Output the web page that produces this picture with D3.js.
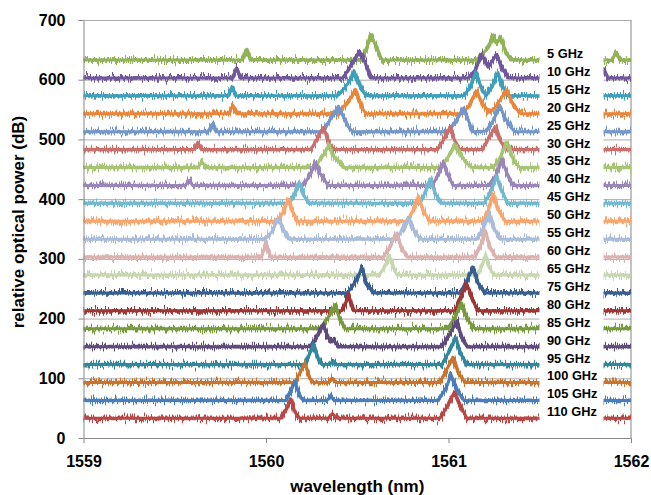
<!DOCTYPE html>
<html>
<head>
<meta charset="utf-8">
<script src="https://cdn.jsdelivr.net/npm/d3@7"></script>
<style>
  body { margin: 0; background: #fff; }
  text { font-family: "Liberation Sans", Arial, sans-serif; font-weight: bold; fill: #000; }
</style>
</head>
<body>
<div id="chart"></div>
<script>
// labels of the traces, top to bottom
let labels = ["5 GHz", "10 GHz", "15 GHz", "20 GHz", "25 GHz", "30 GHz", "35 GHz", "40 GHz",
  "45 GHz", "50 GHz", "55 GHz", "60 GHz", "65 GHz", "75 GHz", "80 GHz", "85 GHz", "90 GHz",
  "95 GHz", "100 GHz", "105 GHz", "110 GHz"];

// vertical offset of each trace (dB)
let offsets = [633, 603, 573, 543, 513, 483, 453, 423, 393, 363, 333, 303, 273, 243, 213, 183, 153, 123, 93, 63, 33];

let colors = ["#8fb356", "#70569a", "#3f9fba", "#e8873c", "#7497ca", "#c9706d", "#a6c472", "#9a86b8",
  "#72b8ce", "#f9a56e", "#a9bdda", "#dcb2b1", "#c7d8b1", "#375f92", "#9c3735", "#789a3e", "#5f4a7c",
  "#33869b", "#c9742f", "#4b7dbb", "#b84846"];

let xTicks = [1559, 1560, 1561, 1562];
let yTicks = [0, 100, 200, 300, 400, 500, 600, 700];

// spectra: [wavelength (nm), power above trace offset (dB)]
let ghz5 = [[1559, 0], [1559.872, 0], [1559.894, 18], [1559.916, 0],
  [1560.524, 0], [1560.550, 18], [1560.573, 43], [1560.600, 25], [1560.628, 4], [1560.640, 0],
  [1561.151, 0], [1561.192, 12], [1561.219, 22], [1561.244, 42], [1561.263, 28], [1561.285, 38], [1561.315, 12], [1561.342, 0],
  [1561.896, 0], [1561.918, 13], [1561.940, 0], [1562, 0]];
let ghz10 = [[1559, 0], [1559.817, 0], [1559.839, 17], [1559.861, 0],
  [1560.422, 0], [1560.460, 18], [1560.512, 45], [1560.540, 28], [1560.572, 0],
  [1561.107, 0], [1561.151, 15], [1561.181, 40], [1561.216, 18], [1561.263, 39], [1561.293, 18], [1561.326, 0],
  [1561.830, 0], [1561.852, 15], [1561.874, 0], [1562, 0]];
let ghz15 = [[1559, 0], [1559.792, 0], [1559.814, 15], [1559.836, 0],
  [1560.389, 0], [1560.427, 12], [1560.460, 25], [1560.482, 42], [1560.504, 25], [1560.521, 12], [1560.548, 0],
  [1561.085, 0], [1561.118, 15], [1561.148, 38], [1561.178, 15], [1561.205, 0], [1561.238, 15], [1561.271, 39], [1561.299, 15], [1561.321, 0],
  [1562, 0]];
let ghz20 = [[1559, 0], [1559.796, 0], [1559.818, 14], [1559.840, 0],
  [1560.395, 0], [1560.433, 15], [1560.466, 27], [1560.490, 41], [1560.510, 23], [1560.526, 10], [1560.548, 0],
  [1561.074, 0], [1561.112, 13], [1561.153, 38], [1561.184, 18], [1561.222, 3], [1561.255, 10], [1561.282, 23], [1561.318, 40], [1561.342, 23], [1561.364, 10], [1561.397, 0],
  [1562, 0]];
let ghz25 = [[1559, 0], [1559.682, 0], [1559.704, 12], [1559.726, 0],
  [1560.296, 0], [1560.334, 12], [1560.367, 27], [1560.395, 42], [1560.425, 25], [1560.447, 10], [1560.474, 0],
  [1560.997, 0], [1561.036, 15], [1561.082, 39], [1561.107, 20], [1561.134, 0], [1561.205, 1], [1561.244, 18], [1561.282, 42], [1561.310, 23], [1561.342, 7], [1561.364, 0],
  [1562, 0]];
let ghz30 = [[1559, 0], [1559.604, 0], [1559.626, 12], [1559.648, 0],
  [1560.247, 0], [1560.274, 15], [1560.296, 27], [1560.315, 37], [1560.334, 22], [1560.351, 8], [1560.373, 0],
  [1560.937, 0], [1560.970, 15], [1561.008, 38], [1561.030, 18], [1561.058, 0],
  [1561.184, 0], [1561.216, 17], [1561.255, 38], [1561.277, 18], [1561.315, 0], [1562, 0]];
let ghz35 = [[1559, 0], [1559.627, 0], [1559.649, 10], [1559.671, 0],
  [1560.268, 0], [1560.285, 8], [1560.318, 22], [1560.345, 38], [1560.367, 20], [1560.395, 12], [1560.422, 0],
  [1560.953, 0], [1560.997, 17], [1561.036, 38], [1561.069, 20], [1561.101, 7], [1561.129, 0],
  [1561.244, 0], [1561.282, 15], [1561.318, 42], [1561.342, 23], [1561.364, 8], [1561.392, 0], [1562, 0]];
let ghz40 = [[1559, 0], [1559.558, 0], [1559.578, 8], [1559.598, 0],
  [1560.203, 0], [1560.241, 17], [1560.272, 38], [1560.296, 20], [1560.323, 8], [1560.340, 0],
  [1560.910, 0], [1560.943, 17], [1560.972, 38], [1560.997, 17], [1561.025, 0],
  [1561.222, 0], [1561.260, 17], [1561.292, 43], [1561.321, 20], [1561.353, 0], [1562, 0]];
let ghz45 = [[1559, 0],
  [1560.126, 0], [1560.153, 12], [1560.182, 35], [1560.208, 13], [1560.236, 0],
  [1560.838, 0], [1560.871, 17], [1560.899, 41], [1560.926, 17], [1560.959, 0],
  [1561.195, 0], [1561.227, 17], [1561.264, 44], [1561.293, 20], [1561.326, 0], [1562, 0]];
let ghz50 = [[1559, 0],
  [1560.060, 0], [1560.093, 15], [1560.122, 37], [1560.148, 15], [1560.175, 0],
  [1560.773, 0], [1560.805, 17], [1560.835, 42], [1560.860, 18], [1560.899, 0],
  [1561.189, 0], [1561.216, 17], [1561.245, 45], [1561.271, 20], [1561.310, 0], [1562, 0]];
let ghz55 = [[1559, 0],
  [1559.995, 0], [1560.033, 13], [1560.068, 35], [1560.099, 15], [1560.126, 0],
  [1560.712, 0], [1560.745, 15], [1560.780, 37], [1560.811, 15], [1560.844, 0],
  [1561.156, 0], [1561.189, 17], [1561.222, 43], [1561.249, 18], [1561.282, 0], [1562, 0]];
let ghz60 = [[1559, 0],
  [1559.975, 0], [1560.000, 23], [1560.025, 0],
  [1560.641, 0], [1560.679, 17], [1560.716, 40], [1560.740, 17], [1560.773, 0],
  [1561.140, 0], [1561.173, 17], [1561.203, 43], [1561.227, 17], [1561.260, 0], [1562, 0]];
let ghz65 = [[1559, 0],
  [1560.619, 0], [1560.647, 12], [1560.675, 32], [1560.696, 13], [1560.718, 0],
  [1561.156, 0], [1561.178, 12], [1561.203, 33], [1561.222, 13], [1561.249, 0], [1562, 0]];
let ghz75 = [[1559, 0],
  [1560.444, 0], [1560.471, 10], [1560.499, 25], [1560.526, 42], [1560.548, 18], [1560.586, 0],
  [1561.068, 0], [1561.107, 25], [1561.136, 43], [1561.162, 17], [1561.200, 0], [1562, 0]];
let ghz80 = [[1559, 0],
  [1560.416, 0], [1560.433, 10], [1560.451, 28], [1560.466, 12], [1560.479, 0],
  [1561.036, 0], [1561.063, 20], [1561.100, 45], [1561.134, 17], [1561.162, 0], [1562, 0]];
let ghz85 = [[1559, 0],
  [1560.296, 0], [1560.351, 23], [1560.378, 40], [1560.405, 15], [1560.433, 0],
  [1560.997, 0], [1561.041, 23], [1561.072, 43], [1561.101, 17], [1561.145, 0], [1562, 0]];
let ghz90 = [[1559, 0],
  [1560.247, 0], [1560.285, 20], [1560.314, 38], [1560.340, 15], [1560.356, 8], [1560.373, 10], [1560.395, 0],
  [1560.964, 0], [1561.008, 22], [1561.048, 43], [1561.068, 18], [1561.101, 0], [1562, 0]];
let ghz95 = [[1559, 0],
  [1560.214, 0], [1560.241, 20], [1560.263, 33], [1560.285, 10], [1560.307, 0], [1560.351, 0], [1560.367, 7], [1560.384, 0],
  [1560.964, 0], [1561.003, 22], [1561.039, 45], [1561.063, 20], [1561.101, 0], [1562, 0]];
let ghz100 = [[1559, 0],
  [1560.159, 0], [1560.186, 17], [1560.214, 31], [1560.241, 7], [1560.263, 0], [1560.345, 0], [1560.364, 7], [1560.384, 0],
  [1560.953, 0], [1560.992, 23], [1561.026, 42], [1561.052, 17], [1561.090, 0], [1562, 0]];
let ghz105 = [[1559, 0],
  [1560.110, 0], [1560.137, 17], [1560.159, 31], [1560.186, 7], [1560.208, 0], [1560.334, 0], [1560.353, 7], [1560.373, 0],
  [1560.942, 0], [1560.986, 20], [1561.014, 43], [1561.047, 17], [1561.085, 0], [1562, 0]];
let ghz110 = [[1559, 0],
  [1560.082, 0], [1560.115, 18], [1560.137, 32], [1560.159, 10], [1560.186, 0], [1560.340, 0], [1560.364, 8], [1560.389, 0],
  [1560.953, 0], [1560.997, 22], [1561.032, 44], [1561.063, 22], [1561.101, 0], [1562, 0]];

let spectra = [ghz5, ghz10, ghz15, ghz20, ghz25, ghz30, ghz35, ghz40, ghz45, ghz50, ghz55,
  ghz60, ghz65, ghz75, ghz80, ghz85, ghz90, ghz95, ghz100, ghz105, ghz110];

let width = 651, height = 495;
let plot = { left: 83.5, right: 631, top: 20, bottom: 438 };

let svg = d3.select("#chart")
  .append("svg")
  .attr("width", width)
  .attr("height", height);

// noisy look of the measured traces
let filter = svg.append("defs").append("filter")
  .attr("id", "noise")
  .attr("filterUnits", "userSpaceOnUse")
  .attr("x", 0).attr("y", 0).attr("width", width).attr("height", height)
  .attr("color-interpolation-filters", "sRGB");
filter.append("feTurbulence")
  .attr("type", "fractalNoise")
  .attr("baseFrequency", "0.9 0.02")
  .attr("numOctaves", 2)
  .attr("seed", 7)
  .attr("result", "turb");
filter.append("feColorMatrix")
  .attr("in", "turb")
  .attr("type", "matrix")
  .attr("values", "0 0 0 0 0.5  0 1 0 0 0  0 0 0 0 0  0 0 0 0 1")
  .attr("result", "map");
filter.append("feDisplacementMap")
  .attr("in", "SourceGraphic")
  .attr("in2", "map")
  .attr("scale", 14)
  .attr("xChannelSelector", "R")
  .attr("yChannelSelector", "G");

let x = d3.scaleLinear().domain([1559, 1562]).range([plot.left, plot.right]);
let y = d3.scaleLinear().domain([0, 700]).range([plot.bottom, plot.top]);

// gridlines
svg.append("g")
  .selectAll("line")
  .data(yTicks.slice(1))
  .enter()
  .append("line")
  .attr("x1", x(1559)).attr("x2", x(1562))
  .attr("y1", d => y(d) + 0.5).attr("y2", d => y(d) + 0.5)
  .attr("stroke", "#adadad")
  .attr("stroke-width", 1);

// right border
svg.append("line")
  .attr("x1", x(1562)).attr("x2", x(1562))
  .attr("y1", y(700)).attr("y2", y(0))
  .attr("stroke", "#868686");

// traces: a clean line for the peaks, a noisy band on top
let line = d3.line();
let traceD = (d, i) => line(d.map(p => [x(p[0]), y(p[1] + offsets[i])]));
let traces = svg.append("g");
spectra.forEach((d, i) => {
  traces.append("path")
    .attr("d", traceD(d, i))
    .attr("fill", "none")
    .attr("stroke", colors[i])
    .attr("stroke-width", 3)
    .attr("stroke-linejoin", "round");
  traces.append("path")
    .attr("d", traceD(d, i))
    .attr("filter", "url(#noise)")
    .attr("fill", "none")
    .attr("stroke", colors[i])
    .attr("stroke-width", 3.8)
    .attr("stroke-linejoin", "round");
});

// label box
svg.append("rect")
  .attr("x", 539.5).attr("y", 43)
  .attr("width", 64).attr("height", 381)
  .attr("fill", "#fff");

svg.append("g")
  .selectAll("text")
  .data(labels)
  .enter()
  .append("text")
  .attr("x", 547)
  .attr("y", (d, i) => y(offsets[i]) - 2)
  .style("font-size", "12.8px")
  .text(d => d);

// Y axis
let yAxis = svg.append("g")
  .attr("transform", "translate(" + plot.left + ",0)")
  .call(d3.axisLeft(y).tickValues(yTicks).tickSize(5).tickSizeOuter(0).tickPadding(13));
// X axis
let xAxis = svg.append("g")
  .attr("transform", "translate(0," + plot.bottom + ")")
  .call(d3.axisBottom(x).tickValues(xTicks).tickSize(5).tickSizeOuter(0).tickPadding(13)
    .tickFormat(d3.format("d")));

[xAxis, yAxis].forEach(a => {
  a.selectAll("path, line").attr("stroke", "#868686");
  a.selectAll("text").style("font-size", "16px").attr("fill", "#000");
});

// axis titles
svg.append("text")
  .attr("x", (plot.left + plot.right) / 2)
  .attr("y", 492)
  .attr("text-anchor", "middle")
  .style("font-size", "17px")
  .text("wavelength (nm)");

svg.append("text")
  .attr("transform", "translate(24,222) rotate(-90)")
  .attr("text-anchor", "middle")
  .style("font-size", "17px")
  .text("relative optical power (dB)");
</script>
</body>
</html>
